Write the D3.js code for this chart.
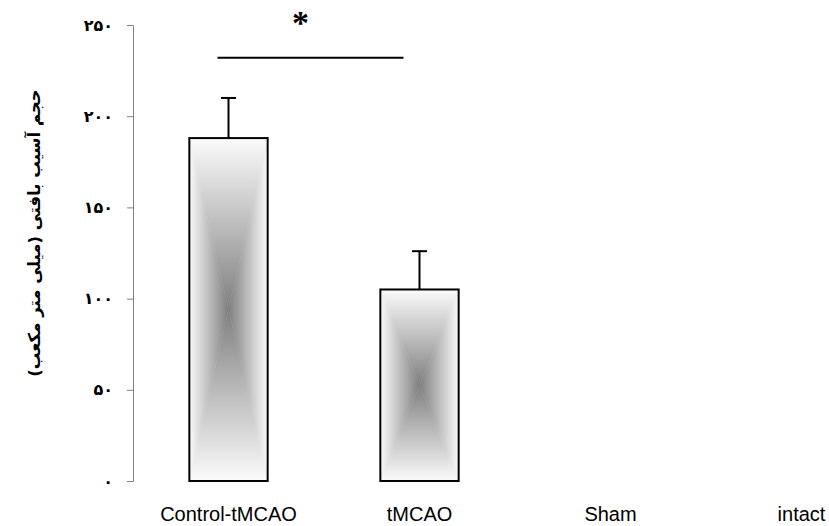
<!DOCTYPE html>
<html>
<head>
<meta charset="utf-8">
<script src="https://cdn.jsdelivr.net/npm/d3@7"></script>
<style>
  body { margin: 0; background: #fff; }
  svg { display: block; }
</style>
</head>
<body>
<svg id="chart"></svg>
<script>
// data
const groups = ['Control-tMCAO', 'tMCAO', 'Sham', 'intact'];
const means = [188, 105, null, null];
const errors = [22, 21, null, null];
const yTicks = [0, 50, 100, 150, 200, 250];
const yTitle = 'حجم آسیب بافتی (میلی متر مکعب)';

const width = 829, height = 526;
const margin = { top: 25, left: 133, bottom: 45 };

const toPersian = n => String(n).replace(/\d/g, d => '۰۱۲۳۴۵۶۷۸۹'[d]);

const svg = d3.select('#chart')
  .attr('width', width)
  .attr('height', height);

const x = d3.scaleBand()
  .domain(groups)
  .range([margin.left, margin.left + 4 * 191])
  .paddingInner(0.59)
  .paddingOuter(0.295);

const y = d3.scaleLinear()
  .domain([0, 250])
  .range([height - margin.bottom, margin.top]);

// y axis (only the left spine with ticks)
const yAxisG = svg.append('g')
  .attr('transform', `translate(${margin.left},0)`)
  .call(d3.axisLeft(y).tickValues(yTicks).tickSize(6).tickSizeOuter(0).tickPadding(14).tickFormat(toPersian));
yAxisG.select('.domain').attr('stroke', '#808080');
yAxisG.selectAll('.tick line').attr('stroke', '#808080');
yAxisG.selectAll('.tick text')
  .attr('font-family', 'DejaVu Sans')
  .attr('font-weight', 'bold')
  .attr('font-size', 16)
  .attr('fill', '#000');

// x labels
svg.append('g')
  .selectAll('text')
  .data(groups)
  .join('text')
  .attr('x', d => x(d) + x.bandwidth() / 2)
  .attr('y', 521)
  .attr('text-anchor', 'middle')
  .attr('font-family', 'Liberation Sans, Arial, sans-serif')
  .attr('font-size', 20)
  .text(d => d);

// y title
svg.append('text')
  .attr('transform', `translate(40,233) rotate(-90)`)
  .attr('text-anchor', 'middle')
  .attr('direction', 'rtl')
  .attr('font-family', 'DejaVu Sans')
  .attr('font-weight', 'bold')
  .attr('font-size', 16.5)
  .text(yTitle);

// bars with a "from centre" rectangular gradient, built from 4 triangles
const defs = svg.append('defs');
const barData = groups.map((g, i) => ({ g, v: means[i], e: errors[i], i })).filter(d => d.v != null);

barData.forEach(d => {
  const x0 = x(d.g), x1 = x0 + x.bandwidth();
  const y0 = y(d.v), y1 = y(0);
  const cx = (x0 + x1) / 2, cy = (y0 + y1) / 2;

  const hGrad = defs.append('linearGradient')
    .attr('id', 'h' + d.i)
    .attr('gradientUnits', 'userSpaceOnUse')
    .attr('x1', x0).attr('x2', x1).attr('y1', 0).attr('y2', 0);
  hGrad.append('stop').attr('offset', 0).attr('stop-color', '#fbfbfb');
  hGrad.append('stop').attr('offset', 0.5).attr('stop-color', '#7f7f7f');
  hGrad.append('stop').attr('offset', 1).attr('stop-color', '#fbfbfb');

  const vGrad = defs.append('linearGradient')
    .attr('id', 'v' + d.i)
    .attr('gradientUnits', 'userSpaceOnUse')
    .attr('x1', 0).attr('x2', 0).attr('y1', y0).attr('y2', y1);
  vGrad.append('stop').attr('offset', 0).attr('stop-color', '#fbfbfb');
  vGrad.append('stop').attr('offset', 0.5).attr('stop-color', '#7f7f7f');
  vGrad.append('stop').attr('offset', 1).attr('stop-color', '#fbfbfb');

  const tris = [
    { pts: [[x0, y0], [x0, y1], [cx, cy]], fill: 'h' },
    { pts: [[x1, y0], [x1, y1], [cx, cy]], fill: 'h' },
    { pts: [[x0, y0], [x1, y0], [cx, cy]], fill: 'v' },
    { pts: [[x0, y1], [x1, y1], [cx, cy]], fill: 'v' }
  ];
  const bar = svg.append('g').attr('class', 'bar');
  bar.selectAll('polygon')
    .data(tris)
    .join('polygon')
    .attr('points', t => t.pts.map(p => p.join(',')).join(' '))
    .attr('fill', t => `url(#${t.fill}${d.i})`)
    .attr('stroke', t => `url(#${t.fill}${d.i})`)
    .attr('stroke-width', 0.5);
  bar.append('rect')
    .attr('x', x0).attr('y', y0)
    .attr('width', x1 - x0).attr('height', y1 - y0)
    .attr('fill', 'none')
    .attr('stroke', '#000')
    .attr('stroke-width', 2);
});

// error bars (upper only)
const capW = 15;
const err = svg.append('g').attr('stroke', '#000').attr('stroke-width', 2);
err.selectAll('.stem')
  .data(barData)
  .join('line')
  .attr('x1', d => x(d.g) + x.bandwidth() / 2)
  .attr('x2', d => x(d.g) + x.bandwidth() / 2)
  .attr('y1', d => y(d.v))
  .attr('y2', d => y(d.v + d.e));
err.selectAll('.cap')
  .data(barData)
  .join('line')
  .attr('x1', d => x(d.g) + x.bandwidth() / 2 - capW / 2)
  .attr('x2', d => x(d.g) + x.bandwidth() / 2 + capW / 2)
  .attr('y1', d => y(d.v + d.e))
  .attr('y2', d => y(d.v + d.e));

// significance bracket
const c0 = x(groups[0]) + x.bandwidth() / 2;
const c1 = x(groups[1]) + x.bandwidth() / 2;
svg.append('line')
  .attr('x1', c0 - 11).attr('x2', c1 - 16)
  .attr('y1', y(232)).attr('y2', y(232))
  .attr('stroke', '#000').attr('stroke-width', 2);
svg.append('text')
  .attr('x', (c0 - 11 + c1 - 16) / 2 - 10)
  .attr('y', 34)
  .attr('text-anchor', 'middle')
  .attr('font-family', 'Liberation Serif, serif')
  .attr('font-weight', 'bold')
  .attr('font-size', 34)
  .text('*');
</script>
</body>
</html>
